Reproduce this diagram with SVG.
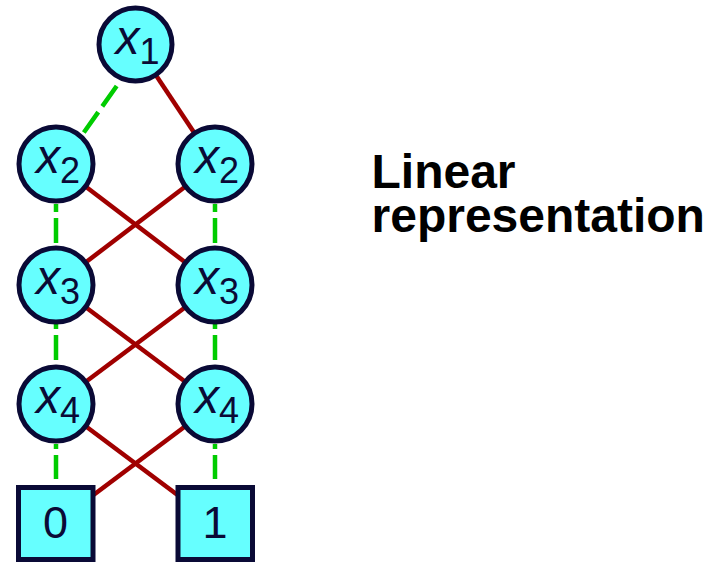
<svg xmlns="http://www.w3.org/2000/svg" width="718" height="562" viewBox="0 0 718 562">
  <style>
    .node { fill: #66ffff; stroke: #0a0a36; stroke-width: 5; }
    .lbl { font-family: "Liberation Sans", Arial, sans-serif; fill: #0a0a36; font-size: 48px; text-anchor: middle; }
    .var { font-style: italic; }
    .sub { font-size: 36px; }
    .term { font-family: "Liberation Sans", Arial, sans-serif; fill: #0a0a36; font-size: 45px; text-anchor: middle; }
    .hi { stroke: #a00000; stroke-width: 4.5; fill: none; }
    .lo { stroke: #00cc00; stroke-width: 4.5; fill: none; stroke-dasharray: 25 6; }
    .title { font-family: "Liberation Sans", Arial, sans-serif; font-weight: bold; font-size: 48px; fill: #000000; }
  </style>

  <!-- edges: solid = high branch, dashed = low branch -->
  <g id="connectors">
    <line class="hi" x1="135.5" y1="44.5" x2="215" y2="164"/>
    <line class="lo" x1="116.7" y1="86" x2="83.3" y2="133.3" style="stroke-dasharray:25 7"/>

    <line class="hi" x1="56" y1="164" x2="215" y2="285"/>
    <line class="hi" x1="215" y1="164" x2="56" y2="285"/>
    <line class="lo" x1="56" y1="204" x2="56" y2="245" stroke-dashoffset="17"/>
    <line class="lo" x1="215" y1="204" x2="215" y2="245" stroke-dashoffset="17"/>

    <line class="hi" x1="56" y1="285" x2="215" y2="404"/>
    <line class="hi" x1="215" y1="285" x2="56" y2="404"/>
    <line class="lo" x1="56" y1="324" x2="56" y2="362" stroke-dashoffset="20"/>
    <line class="lo" x1="215" y1="324" x2="215" y2="362" stroke-dashoffset="20"/>

    <line class="hi" x1="56" y1="404" x2="215" y2="523"/>
    <line class="hi" x1="215" y1="404" x2="56" y2="523"/>
    <line class="lo" x1="56" y1="444" x2="56" y2="479" stroke-dashoffset="20"/>
    <line class="lo" x1="215" y1="444" x2="215" y2="479" stroke-dashoffset="20"/>
  </g>

  <g id="n-x1">
    <circle class="node" cx="135.5" cy="44.5" r="36.5"/>
    <text class="lbl" x="137.5" y="53.5"><tspan class="var">x</tspan><tspan class="sub" dy="10">1</tspan></text>
  </g>
  <g id="n-x2a">
    <circle class="node" cx="56" cy="164" r="37"/>
    <text class="lbl" x="58" y="173"><tspan class="var">x</tspan><tspan class="sub" dy="10">2</tspan></text>
  </g>
  <g id="n-x2b">
    <circle class="node" cx="215" cy="164" r="37"/>
    <text class="lbl" x="217" y="173"><tspan class="var">x</tspan><tspan class="sub" dy="10">2</tspan></text>
  </g>
  <g id="n-x3a">
    <circle class="node" cx="56" cy="285" r="37"/>
    <text class="lbl" x="58" y="294"><tspan class="var">x</tspan><tspan class="sub" dy="10">3</tspan></text>
  </g>
  <g id="n-x3b">
    <circle class="node" cx="215" cy="285" r="37"/>
    <text class="lbl" x="217" y="294"><tspan class="var">x</tspan><tspan class="sub" dy="10">3</tspan></text>
  </g>
  <g id="n-x4a">
    <circle class="node" cx="56" cy="404" r="37"/>
    <text class="lbl" x="58" y="413"><tspan class="var">x</tspan><tspan class="sub" dy="10">4</tspan></text>
  </g>
  <g id="n-x4b">
    <circle class="node" cx="215" cy="404" r="37"/>
    <text class="lbl" x="217" y="413"><tspan class="var">x</tspan><tspan class="sub" dy="10">4</tspan></text>
  </g>

  <g id="t-0">
    <rect class="node" x="18.5" y="487.5" width="74.5" height="72"/>
    <text class="term" x="55.5" y="538">0</text>
  </g>
  <g id="t-1">
    <rect class="node" x="178" y="487.5" width="74.5" height="72"/>
    <text class="term" x="215" y="538">1</text>
  </g>

  <g id="caption">
    <text class="title" x="371.5" y="188">Linear</text>
    <text class="title" x="371.5" y="232">representation</text>
  </g>
</svg>
